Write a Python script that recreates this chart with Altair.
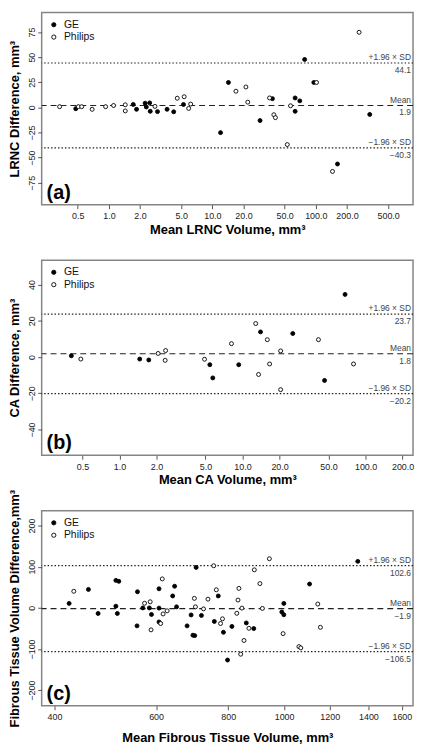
import altair as alt
import pandas as pd

FONT = "Liberation Sans"

# ---------------- Panel (a): LRNC ----------------
a_ge_mean = [0.478, 1.72, 1.85, 2.24, 2.30, 2.48, 2.51, 2.95, 3.65, 4.23, 5.26, 12.0, 14.3, 28.9, 38.1,
             63.1, 63.1, 70.0, 78.0, 95.7, 162, 332]
a_ge_diff = [-1.3, 2.9, -1.9, 4.2, 0.4, 4.5, -3.9, -4.2, -1.9, -4.4, 2.9, -25.1, 24.8, -13.1, 8.7,
             9.4, -3.9, 6.5, 47.7, 24.8, -56.3, -7.0]
a_ph_mean = [0.334, 0.507, 0.546, 0.689, 0.93, 1.11, 1.44, 1.44, 2.79, 4.58, 5.34, 5.90, 6.17, 16.9,
             21.1, 22.0, 35.7, 39.3, 40.7, 53.0, 57.0, 101.6, 145, 262]
a_ph_diff = [0.7, 0.7, 0.7, -1.9, 0.7, 1.9, 2.6, -3.5, 1.0, 9.1, 10.6, -1.0, 3.3, 16.1,
             20.3, 5.2, 9.4, -7.3, -10.2, -37.0, 1.6, 24.8, -63.7, 74.7]
a_lines = [1.9, 44.1, -40.3]
a_xticks = [0.5, 1, 2, 5, 10, 20, 50, 100, 200, 500]
a_yticks = [-75, -50, -25, 0, 25, 50, 75]

# ---------------- Panel (b): CA ----------------
b_ge_mean = [0.406, 1.46, 1.73, 5.42, 5.73, 9.31, 14.0, 25.6, 46.4, 68.1]
b_ge_diff = [0.7, -1.1, -1.6, -4.2, -11.5, -4.2, 13.9, 13.0, -12.9, 34.6]
b_ph_mean = [0.485, 2.06, 2.37, 2.35, 4.91, 8.13, 12.8, 13.5, 15.9, 16.6, 20.4, 20.4, 41.4, 79.8]
b_ph_diff = [-1.1, 2.0, 3.6, -1.8, -1.2, 7.4, 18.5, -9.6, 9.6, -3.8, 3.4, -18.0, 9.6, -3.8]
b_lines = [1.8, 23.7, -20.2]
b_xticks = [0.5, 1, 2, 5, 10, 20, 50, 100, 200]
b_yticks = [-40, -20, 0, 20, 40]

# ---------------- Panel (c): Fibrous tissue ----------------
c_ge_mean = [424, 458, 476, 511, 517, 511, 514, 557, 556, 569, 584, 589, 607, 607, 607, 646, 641, 651,
             679, 690, 695, 700, 704, 719, 769, 757, 785, 812, 798, 860, 886, 999, 991, 999, 1107, 1342]
c_ge_diff = [10.7, 44.7, -13.7, 66.7, 64.4, 4.0, -13.7, 39.1, -43.8, -0.2, -0.2, -16.1, 46.2, -0.7,
             -34.3, 52.5, 28.9, 2.4, -43.8, -17.3, -66.5, -67.5, 98.2, -18.5, 28.9, -33.1, -59.4,
             -45.2, -126.9, -36.7, -50.4, 10.7, -10.2, -16.8, 57.8, 112.9]
c_ph_mean = [432, 573, 586, 588, 615, 611, 617, 627, 699, 702, 725, 738, 755, 763, 782, 776, 828, 832,
             835, 845, 852, 841, 869, 888, 908, 917, 943, 996, 1061, 1069, 1144, 1156]
c_ph_diff = [40.2, 11.1, 14.7, -53.5, 70.3, -38.1, -14.9, -7.3, 23.0, 2.4, -2.6, 21.1, 102.2, 43.8,
             -26.7, -38.1, -13.3, 18.9, 47.3, -0.7, -79.3, -112.7, -49.7, 92.3, 58.9, -1.4, 119.3,
             -62.7, -94.2, -97.3, 9.2, -47.3]
c_lines = [-1.9, 102.6, -106.5]
c_xticks = [400, 600, 800, 1000, 1200, 1400, 1600]
c_yticks = [-200, -100, 0, 100, 200]

line_labels = ["Mean", "+1.96 \u00d7 SD", "\u22121.96 \u00d7 SD"]
line_kinds = ["mean", "sd", "sd"]
scanners = ["GE", "Philips"]

W = 375


def panel(ge_m, ge_d, ph_m, ph_d, lines, xdom, ydom, xticks, yticks, xfmt,
          xtitle, ytitle, tag, h, xtpad):
    pts = pd.DataFrame({
        "m": ge_m + ph_m,
        "d": ge_d + ph_d,
        "s": ["GE"] * len(ge_m) + ["Philips"] * len(ph_m),
    })
    ln = pd.DataFrame({"d": lines, "up": line_labels, "k": line_kinds})
    tg = pd.DataFrame({"t": [tag]})

    X = alt.X("m:Q",
              scale=alt.Scale(type="log", domain=xdom, nice=False),
              axis=alt.Axis(values=xticks, labelExpr="format(datum.value, '%s')" % xfmt,
                            title=xtitle, titlePadding=xtpad, labelOverlap=False))
    Y = alt.Y("d:Q",
              scale=alt.Scale(domain=ydom, nice=False, zero=False),
              axis=alt.Axis(values=yticks, title=ytitle, labelAngle=270, labelAlign="center",
                            labelBaseline="alphabetic", titlePadding=6, labelOverlap=False))

    points = alt.Chart(pts).mark_point(
        shape="circle", filled=True, size=16, strokeWidth=0.9, opacity=1
    ).encode(
        x=X, y=Y,
        fill=alt.Fill("s:N",
                      scale=alt.Scale(domain=scanners, range=["black", "white"]),
                      legend=alt.Legend(title=None, orient="top-left", offset=5, padding=2,
                                        symbolType="circle", symbolSize=18,
                                        symbolStrokeColor="black", symbolStrokeWidth=0.9,
                                        labelFontSize=10.5, labelColor="#111", labelOffset=5,
                                        rowPadding=1.5)),
        stroke=alt.value("black"),
    )
    mean_rule = alt.Chart(ln).transform_filter("datum.k == 'mean'").mark_rule(
        color="#222", strokeWidth=1.1, strokeDash=[6, 4]).encode(y=Y)
    sd_rule = alt.Chart(ln).transform_filter("datum.k == 'sd'").mark_rule(
        color="#222", strokeWidth=1.1, strokeDash=[1.5, 2]).encode(y=Y)
    up_txt = alt.Chart(ln).mark_text(
        align="right", baseline="middle", dy=-6, fontSize=8.5, color="#444"
    ).encode(y=Y, x=alt.value(W - 2), text="up:N")
    lo_txt = alt.Chart(ln).mark_text(
        align="right", baseline="middle", dy=7, fontSize=8.5, color="#444"
    ).encode(y=Y, x=alt.value(W - 2), text=alt.Text("d:Q", format=".1f"))
    tag_txt = alt.Chart(tg).mark_text(
        align="left", baseline="middle", fontSize=20, fontWeight="bold", color="black"
    ).encode(x=alt.value(5), y=alt.value(h - 12), text="t:N")

    return alt.layer(mean_rule, sd_rule, up_txt, lo_txt, points, tag_txt).properties(width=W, height=h)


pa = panel(a_ge_mean, a_ge_diff, a_ph_mean, a_ph_diff, a_lines, [0.224, 870], [-96.8, 94.3],
           a_xticks, a_yticks, ".1f", "Mean LRNC Volume, mm\u00b3", "LRNC Difference, mm\u00b3",
           "(a)", 194, 3)
pb = panel(b_ge_mean, b_ge_diff, b_ph_mean, b_ph_diff, b_lines, [0.233, 243], [-54.2, 53.5],
           b_xticks, b_yticks, ".1f", "Mean CA Volume, mm\u00b3", "CA Difference, mm\u00b3",
           "(b)", 197, 3)
pc = panel(c_ge_mean, c_ge_diff, c_ph_mean, c_ph_diff, c_lines, [380, 1673], [-238, 236],
           c_xticks, c_yticks, "d", "Mean Fibrous Tissue Volume, mm\u00b3",
           "Fibrous Tissue Volume Difference,mm\u00b3", "(c)", 197, 10)

chart = alt.vconcat(pa, pb, pc, spacing=56, bounds="flush").resolve_scale(
    x="independent", y="independent", fill="independent"
).properties(padding=0).configure(font=FONT).configure_view(
    stroke="#858585", strokeWidth=1.5
).configure_axis(
    domain=False, grid=False, tickColor="#555", tickSize=4, tickWidth=1,
    labelFontSize=9, labelColor="#222", labelPadding=3,
    titleFontSize=13, titleFontWeight="bold", titleColor="black"
)

chart.save("out.html", embed_options={"renderer": "svg", "actions": False})
